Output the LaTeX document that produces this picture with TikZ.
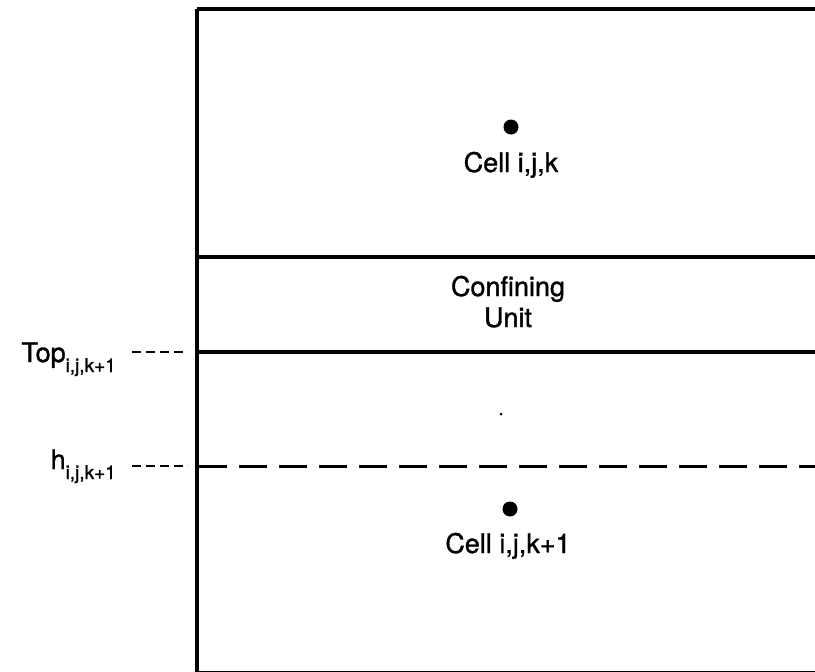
\documentclass[tikz,border=0pt]{standalone}
\usepackage{fontspec}
\setmainfont{TeX Gyre Heros}
\newfontfamily\heavyfont[FakeBold=1.2]{TeX Gyre Heros}
\begin{document}
\begin{tikzpicture}[x=1pt,y=-1pt,
  wall/.style={line width=4.5pt},
  layer/.style={line width=3.5pt},
  watertable/.style={line width=3pt, dash pattern=on 28pt off 12pt},
  leader/.style={line width=2.5pt, dash pattern=on 9pt off 5pt},
  lbl/.style={font=\heavyfont\fontsize{27}{31}\selectfont, inner sep=0pt, anchor=base},
  sidelbl/.style={font=\heavyfont\fontsize{27}{31}\selectfont, inner sep=0pt, anchor=base east},
  cellpt/.style={circle, fill=black, inner sep=0pt, minimum size=15pt},
  speck/.style={circle, fill=black, inner sep=0pt, minimum size=3pt}]
\useasboundingbox (0,0) rectangle (815,672);
\newcommand{\subtxt}[1]{\raisebox{-10pt}{\fontsize{19}{19}\selectfont #1}}
% frame
\coordinate (TL) at (197,9);
\coordinate (TR) at (815,9);
\coordinate (BL) at (197,672);
\coordinate (BR) at (815,673);
\coordinate (BLb) at (197,673);
\draw[wall] (TL) -- (BL);
\draw[layer] (TL) -- (TR);
\draw[layer] (BLb) -- (BR);
% confining unit boundaries
\coordinate (CUtopL) at (197,257);
\coordinate (CUtopR) at (815,257);
\coordinate (CUbotL) at (197,352);
\coordinate (CUbotR) at (815,352);
\draw[layer] (CUtopL) -- (CUtopR);
\draw[layer] (CUbotL) -- (CUbotR);
% head line
\coordinate (HL) at (199,466);
\coordinate (HR) at (815,466);
\draw[watertable] (HL) -- (HR);
% labels on the left
\node[sidelbl] (toplbl) at (116,362) {Top\subtxt{i,j,k+1}};
\node[sidelbl] (hlbl) at (116,469) {h\subtxt{i,j,k+1}};
\coordinate (topA) at (132,352);
\coordinate (topB) at (188,352);
\coordinate (hA) at (132,466);
\coordinate (hB) at (188,466);
\draw[leader] (topA) -- (topB);
\draw[leader] (hA) -- (hB);
% cells
\node[cellpt] (dotk) at (511,127) {};
\node[lbl] (cellk) at (511,172) {Cell i,j,k};
\node[lbl] (conf) at (508,296) {Confining};
\node[lbl] (unit) at (508,327) {Unit};
\node[speck] (mid) at (501,414) {};
\node[cellpt] (dotk1) at (510,509) {};
\node[lbl] (cellk1) at (508,553) {Cell i,j,k+1};
\end{tikzpicture}
\end{document}
